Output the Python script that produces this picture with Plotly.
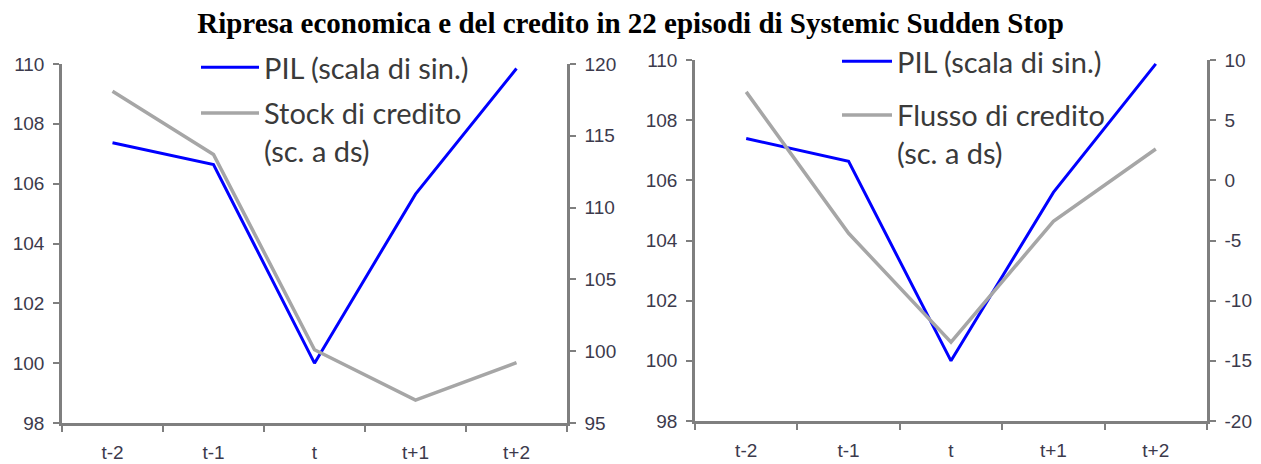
import plotly.graph_objects as go

W, H = 1261, 464

categories = ["t-2", "t-1", "t", "t+1", "t+2"]
pil_left = [107.37, 106.64, 100.0, 105.65, 109.85]
stock_credito = [118.1, 113.7, 100.1, 96.6, 99.2]
pil_right = [107.39, 106.63, 100.0, 105.6, 109.87]
flusso_credito = [7.35, -4.4, -13.45, -3.4, 2.6]

left_ticks = [98, 100, 102, 104, 106, 108, 110]
stock_ticks = [95, 100, 105, 110, 115, 120]
flusso_ticks = [-20, -15, -10, -5, 0, 5, 10]
flusso_labels = ["-20", "-15", "-10", "-5", "0", "5", "10"]

title_text = "Ripresa economica e del credito in 22 episodi di Systemic Sudden Stop"
name_pil = "PIL (scala di sin.)"
name_stock = "Stock di credito<br>(sc. a ds)"
name_flusso = "Flusso di credito<br>(sc. a ds)"

BLUE = "#0000FF"
GREY = "#A6A6A6"
AXIS = "#7F7F7F"
TICKFONT = dict(family="Liberation Sans, Arial, sans-serif", size=19, color="#3C3A4C")
LEGFONT = dict(family="Lato, Open Sans, sans-serif", size=29, color="#3A3A3A")

def px_x(p):
    return p / W

def px_y(p):
    return 1 - p / H

fig = go.Figure()

fig.add_trace(go.Scatter(x=categories, y=pil_left, name=name_pil, mode="lines",
                         line=dict(color=BLUE, width=3), xaxis="x", yaxis="y",
                         legend="legend", legendgroup="a"))
fig.add_trace(go.Scatter(x=categories, y=stock_credito, name=name_stock, mode="lines",
                         line=dict(color=GREY, width=3.5), xaxis="x", yaxis="y2",
                         legend="legend", legendgroup="b"))
fig.add_trace(go.Scatter(x=categories, y=pil_right, name=name_pil, mode="lines",
                         line=dict(color=BLUE, width=3), xaxis="x2", yaxis="y3",
                         legend="legend2", legendgroup="c"))
fig.add_trace(go.Scatter(x=categories, y=flusso_credito, name=name_flusso, mode="lines",
                         line=dict(color=GREY, width=3.5), xaxis="x2", yaxis="y4",
                         legend="legend2", legendgroup="d"))

xcommon = dict(type="category", categoryorder="array", categoryarray=categories,
               range=[-0.5, 4.5], tickson="boundaries", ticks="outside", ticklen=6,
               tickwidth=2, tickcolor=AXIS, showline=True, linecolor=AXIS, linewidth=2.5,
               showgrid=False, zeroline=False, tickfont=TICKFONT, ticklabelstandoff=10,
               automargin=False)
ycommon = dict(ticks="outside", ticklen=6, tickwidth=2, tickcolor=AXIS, showline=True,
               linecolor=AXIS, linewidth=2.5, showgrid=False, zeroline=False,
               tickfont=TICKFONT, ticklabelstandoff=5, automargin=False)

left_dom_x = [px_x(62), px_x(567)]
right_dom_x = [px_x(695), px_x(1207)]
left_dom_y = [px_y(423), px_y(64)]
right_dom_y = [px_y(421), px_y(60)]

fig.update_layout(
    width=W, height=H,
    margin=dict(l=0, r=0, t=0, b=0),
    paper_bgcolor="white", plot_bgcolor="white",
    title=dict(text="<b>" + title_text + "</b>", x=0.5, xanchor="center",
               y=px_y(23), yanchor="middle", yref="container",
               font=dict(family="Liberation Serif, Times New Roman, serif", size=29, color="#000000")),
    xaxis=dict(domain=left_dom_x, anchor="y", **xcommon),
    yaxis=dict(domain=left_dom_y, anchor="x", range=[98, 110], tickvals=left_ticks, **ycommon),
    yaxis2=dict(overlaying="y", anchor="x", side="right", range=[95, 120],
                tickvals=stock_ticks, **ycommon),
    xaxis2=dict(domain=right_dom_x, anchor="y3", **xcommon),
    yaxis3=dict(domain=right_dom_y, anchor="x2", range=[98, 110], tickvals=left_ticks, **ycommon),
    yaxis4=dict(overlaying="y3", anchor="x2", side="right", range=[-20, 10],
                tickvals=flusso_ticks, ticktext=flusso_labels, **ycommon),
    legend=dict(x=px_x(196), y=px_y(42), xanchor="left", yanchor="top",
                bgcolor="rgba(0,0,0,0)", font=LEGFONT, itemwidth=58,
                traceorder="grouped", tracegroupgap=5, valign="top"),
    legend2=dict(x=px_x(837), y=px_y(36), xanchor="left", yanchor="top",
                 bgcolor="rgba(0,0,0,0)", font=LEGFONT, itemwidth=50,
                 traceorder="grouped", tracegroupgap=13, valign="top"),
    showlegend=True,
)

fig.write_html("out.html")
